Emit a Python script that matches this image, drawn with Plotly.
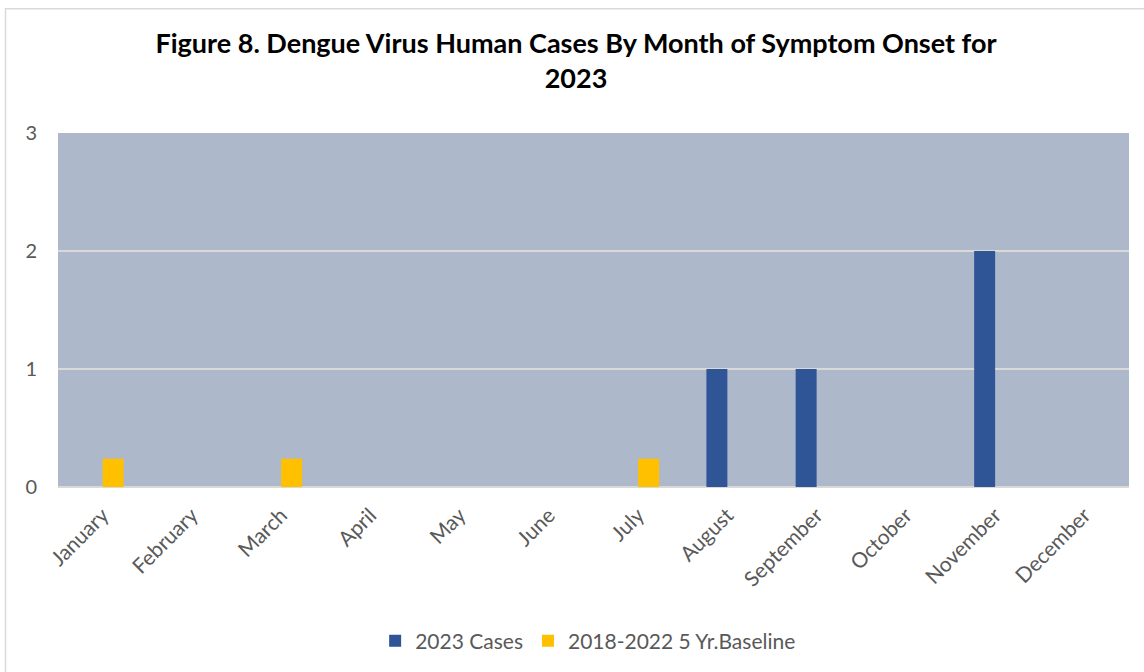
import plotly.graph_objects as go

# Monthly dengue virus human case counts
months = ["January", "February", "March", "April", "May", "June",
          "July", "August", "September", "October", "November", "December"]
cases_2023 = [0, 0, 0, 0, 0, 0, 0, 1, 1, 0, 2, 0]
baseline_5yr = [0.24, 0, 0.24, 0, 0, 0, 0.24, 0, 0, 0, 0, 0]
y_ticks = [0, 1, 2, 3]

TEXT = "#595959"
FONT = "Lato, Carlito, Calibri, sans-serif"

fig = go.Figure()
fig.add_trace(go.Bar(x=months, y=cases_2023, name="2023 Cases",
                     marker=dict(color="#2F5597", line=dict(width=0))))
fig.add_trace(go.Bar(x=months, y=baseline_5yr, name="2018-2022 5 Yr.Baseline",
                     marker=dict(color="#FFC000", line=dict(width=0))))

W, H = 1144, 672
ml, mr, mt, mb = 58, 15, 133, 184
pw, ph = W - ml - mr, H - mt - mb

def px_x(x):
    return (x - ml) / pw

def px_y(y):
    return (H - mb - y) / ph

fig.update_layout(
    width=W, height=H,
    margin=dict(l=ml, r=mr, t=mt, b=mb),
    paper_bgcolor="white",
    plot_bgcolor="#ADB9CA",
    barmode="group",
    bargap=0.53,
    bargroupgap=0,
    font=dict(family=FONT, color=TEXT),
    title=dict(
        text="<b>Figure 8. Dengue Virus Human Cases By Month of Symptom Onset for<br>2023</b>",
        x=576 / W, xref="container", xanchor="center",
        y=1 - 53 / H, yref="container", yanchor="middle",
        font=dict(family=FONT, size=27, color="black"),
    ),
    xaxis=dict(
        tickangle=-45, tickfont=dict(size=21, color=TEXT),
        showgrid=False, ticks="", ticklabelstandoff=11,
        showline=False, range=[-0.5, 11.5],
    ),
    yaxis=dict(
        range=[0, 3], tickvals=y_ticks,
        tickfont=dict(size=20, color=TEXT),
        showgrid=True, gridcolor="#D9D9D9", gridwidth=2,
        zeroline=True, zerolinecolor="#D9D9D9", zerolinewidth=2,
        ticks="", ticklabelstandoff=20, showline=False,
    ),
    legend=dict(
        orientation="h", x=0.495, xanchor="center",
        y=px_y(641), yanchor="middle",
        font=dict(size=21, color=TEXT),
        itemwidth=30, tracegroupgap=0,
    ),
    showlegend=True,
    shapes=[
        dict(type="rect", xref="paper", yref="paper",
             x0=px_x(5.5), x1=px_x(1150), y0=px_y(8.5), y1=px_y(680),
             line=dict(color="#D9D9D9", width=1.5), fillcolor="rgba(0,0,0,0)",
             layer="below"),
    ],
)

fig.write_html("out.html")
